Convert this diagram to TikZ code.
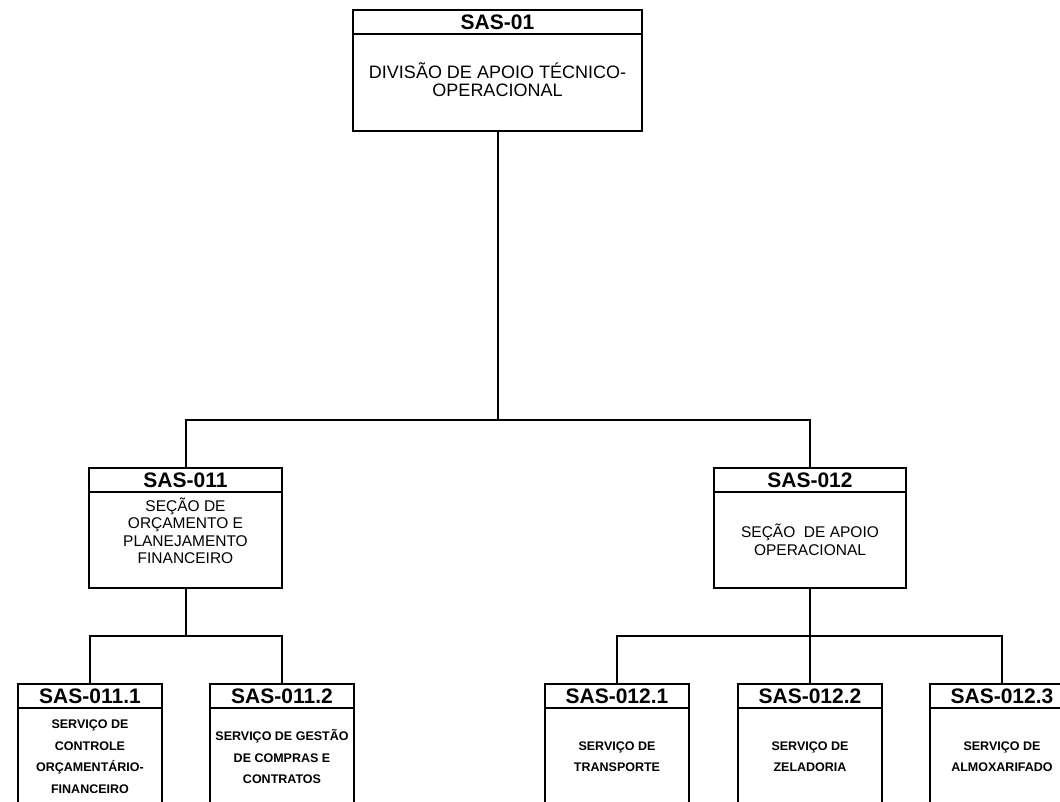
\documentclass[tikz,border=0pt]{standalone}
\usepackage{fontspec}
\setmainfont{Liberation Sans}
\usetikzlibrary{positioning}

\tikzset{
    ttl/.style={draw, line width=2pt, inner sep=0pt, outer sep=0pt,
        minimum height=24, font=\fontsize{21}{21}\selectfont\bfseries},
    bodybox/.style={draw, line width=2pt, inner sep=0pt, outer sep=0pt,
        align=center},
    topfont/.style={font=\fontsize{18}{18}\selectfont},
    midfont/.style={font=\fontsize{15.5}{17.5}\selectfont},
    lowfont/.style={font=\fontsize{12.5}{21.5}\selectfont\bfseries},
    conn/.style={line width=2pt}
}

\begin{document}
\begin{tikzpicture}[x=1pt,y=-1pt]

% Cadre
\clip
(0,0)
rectangle
(1060,802);

% Divisão
\node[ttl, minimum width=289]
(t01) at (497.5,22.5)
{SAS-01};

\node[bodybox, minimum width=289, minimum height=97, below=0pt of t01]
(b01)
{};

\node[topfont, align=center, yshift=3.5]
(x01) at (b01.center)
{DIVISÃO DE APOIO TÉCNICO-\\OPERACIONAL};

% Seções
\node[ttl, minimum width=193]
(t011) at (185.5,480)
{SAS-011};

\node[bodybox, minimum width=193, minimum height=96, below=0pt of t011]
(b011)
{};

\node[midfont, align=center, yshift=9]
(x011) at (b011.center)
{SEÇÃO DE\\ORÇAMENTO E\\PLANEJAMENTO\\FINANCEIRO};

\node[ttl, minimum width=192]
(t012) at (810,480)
{SAS-012};

\node[bodybox, midfont, minimum width=192, minimum height=96, below=0pt of t012]
(b012)
{SEÇÃO\ \ DE APOIO\\OPERACIONAL};

% Serviços
\node[ttl, minimum width=144]
(t0111) at (90,696)
{SAS-011.1};

\node[bodybox, lowfont, minimum width=144, minimum height=97, below=0pt of t0111]
(b0111)
{SERVIÇO DE\\CONTROLE\\ORÇAMENTÁRIO-\\FINANCEIRO};

\node[ttl, minimum width=144]
(t0112) at (282,696)
{SAS-011.2};

\node[bodybox, lowfont, minimum width=144, minimum height=97, below=0pt of t0112]
(b0112)
{SERVIÇO DE GESTÃO\\DE COMPRAS E\\CONTRATOS};

\node[ttl, minimum width=144]
(t0121) at (617,696)
{SAS-012.1};

\node[bodybox, lowfont, minimum width=144, minimum height=97, below=0pt of t0121]
(b0121)
{SERVIÇO DE\\TRANSPORTE};

\node[ttl, minimum width=144]
(t0122) at (810,696)
{SAS-012.2};

\node[bodybox, lowfont, minimum width=144, minimum height=97, below=0pt of t0122]
(b0122)
{SERVIÇO DE\\ZELADORIA};

\node[ttl, minimum width=144]
(t0123) at (1002,696)
{SAS-012.3};

\node[bodybox, lowfont, minimum width=144, minimum height=97, below=0pt of t0123]
(b0123)
{SERVIÇO DE\\ALMOXARIFADO};

% Ligações
\coordinate (j0) at (497.5,420);
\coordinate (j11) at (185.5,636);
\coordinate (j12) at (810,636);

\draw[conn]
(b01.south)
--
(j0);

\draw[conn]
(t011.north)
|-
(j0)
-|
(t012.north);

\draw[conn]
(b011.south)
--
(j11);

\draw[conn]
(t0111.north)
|-
(j11)
-|
(t0112.north);

\draw[conn]
(b012.south)
--
(j12);

\draw[conn]
(t0121.north)
|-
(j12)
-|
(t0123.north);

\draw[conn]
(j12)
--
(t0122.north);

\end{tikzpicture}
\end{document}
